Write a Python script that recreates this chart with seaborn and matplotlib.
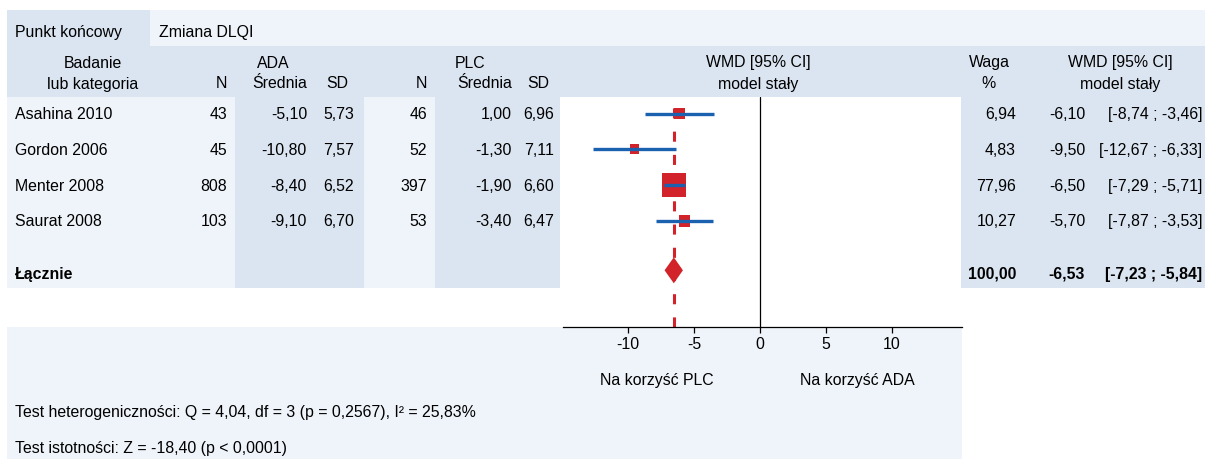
import matplotlib
matplotlib.use("Agg")
import matplotlib.pyplot as plt
from matplotlib.patches import Rectangle
import pandas as pd
import seaborn as sns

# study data
studies = ["Asahina 2010", "Gordon 2006", "Menter 2008", "Saurat 2008"]
n_ada = [43, 45, 808, 103]
mean_ada = [-5.10, -10.80, -8.40, -9.10]
sd_ada = [5.73, 7.57, 6.52, 6.70]
n_plc = [46, 52, 397, 53]
mean_plc = [1.00, -1.30, -1.90, -3.40]
sd_plc = [6.96, 7.11, 6.60, 6.47]
weights = [6.94, 4.83, 77.96, 10.27]
wmd = [-6.10, -9.50, -6.50, -5.70]
ci_low = [-8.74, -12.67, -7.29, -7.87]
ci_high = [-3.46, -6.33, -5.71, -3.53]

# pooled (fixed model)
pooled_weight = 100.00
pooled_wmd = -6.53
pooled_low = -7.23
pooled_high = -5.84

x_ticks = [-10, -5, 0, 5, 10]
heterogeneity = "Test heterogeniczności: Q = 4,04, df = 3 (p = 0,2567), I² = 25,83%"
significance = "Test istotności: Z = -18,40 (p < 0,0001)"

# colours
BLUE_BG = "#dbe5f1"
LIGHT_BG = "#eff4fa"
RED = "#d2232a"
BLUE = "#1a62b0"

sns.set_style("white")
plt.rcParams["font.family"] = ["Liberation Sans", "DejaVu Sans"]
FS = 11.4


def fmt(v):
    return f"{v:.2f}".replace(".", ",")


def ci_text(lo, hi):
    return f"[{fmt(lo)} ; {fmt(hi)}]"


W, H = 1205, 459
fig = plt.figure(figsize=(W / 100, H / 100), dpi=100)

# background layer in pixel coordinates
bg = fig.add_axes([0, 0, 1, 1])
bg.set_xlim(0, W)
bg.set_ylim(H, 0)
bg.axis("off")


def box(x0, x1, y0, y1, color):
    bg.add_patch(Rectangle((x0, y0), x1 - x0, y1 - y0, color=color, lw=0, zorder=0))


def txt(x, yc, s, ha="left", bold=False):
    # yc = visual centre of the capitals
    bg.text(x, yc + 5.5, s, ha=ha, va="baseline", fontsize=FS,
            fontweight="bold" if bold else "normal", color="black", zorder=2)


ROW0, PITCH = 113.5, 35.8
TOP, TABLE_BOTTOM, AXIS_Y = 97, 288, 327

def row_y(r):
    return ROW0 + PITCH * r

# cells
box(7, 150, 10, 46, BLUE_BG)
box(150, W, 10, 46, LIGHT_BG)
box(7, W, 46, TOP, BLUE_BG)
box(7, 235, TOP, TABLE_BOTTOM, LIGHT_BG)
box(235, 364, TOP, TABLE_BOTTOM, BLUE_BG)
box(364, 435, TOP, TABLE_BOTTOM, LIGHT_BG)
box(435, 560, TOP, TABLE_BOTTOM, BLUE_BG)
box(961, W, TOP, TABLE_BOTTOM, BLUE_BG)
box(7, 962, AXIS_Y, H, LIGHT_BG)

# header
txt(15, 32, "Punkt końcowy")
txt(159, 32, "Zmiana DLQI")
txt(93, 62, "Badanie", ha="center")
txt(93, 83, "lub kategoria", ha="center")
txt(273, 62, "ADA", ha="center")
txt(227, 83, "N", ha="right")
txt(307, 83, "Średnia", ha="right")
txt(326, 83, "SD")
txt(470, 62, "PLC", ha="center")
txt(427, 83, "N", ha="right")
txt(512, 83, "Średnia", ha="right")
txt(527, 83, "SD")
txt(758, 62, "WMD [95% CI]", ha="center")
txt(758, 83, "model stały", ha="center")
txt(989, 62, "Waga", ha="center")
txt(989, 83, "%", ha="center")
txt(1120, 62, "WMD [95% CI]", ha="center")
txt(1120, 83, "model stały", ha="center")

# study rows
for i, name in enumerate(studies):
    y = row_y(i)
    txt(15, y, name)
    txt(227, y, str(n_ada[i]), ha="right")
    txt(307, y, fmt(mean_ada[i]), ha="right")
    txt(354, y, fmt(sd_ada[i]), ha="right")
    txt(427, y, str(n_plc[i]), ha="right")
    txt(512, y, fmt(mean_plc[i]), ha="right")
    txt(554, y, fmt(sd_plc[i]), ha="right")
    txt(1016, y, fmt(weights[i]), ha="right")
    txt(1085, y, fmt(wmd[i]), ha="right")
    txt(1202, y, ci_text(ci_low[i], ci_high[i]), ha="right")

# pooled row
TOTAL_TEXT = 4.46
yt = row_y(TOTAL_TEXT)
txt(15, yt, "Łącznie", bold=True)
txt(1016, yt, fmt(pooled_weight), ha="right", bold=True)
txt(1085, yt, fmt(pooled_wmd), ha="right", bold=True)
txt(1202, yt, ci_text(pooled_low, pooled_high), ha="right", bold=True)

txt(657, 379, "Na korzyść PLC", ha="center")
txt(857, 379, "Na korzyść ADA", ha="center")
txt(15, 412, heterogeneity)
txt(15, 448, significance)

# forest plot
X0, X1 = 563, 962
ax = fig.add_axes([X0 / W, 1 - AXIS_Y / H, (X1 - X0) / W, (AXIS_Y - TOP) / H])
ax.patch.set_alpha(0)

rows = list(range(len(studies)))
df = pd.DataFrame({"wmd": wmd, "row": rows, "weight": weights})
sns.scatterplot(data=df, x="wmd", y="row", size="weight", sizes=(48, 300),
                marker="s", color=RED, linewidth=0, edgecolor="none",
                legend=False, ax=ax, zorder=2)
ax.hlines(rows, ci_low, ci_high, color=BLUE, lw=2.4, zorder=3)

TOTAL_MARK = 4.38
half = 13 / PITCH
ax.fill([pooled_low, pooled_wmd, pooled_high, pooled_wmd],
        [TOTAL_MARK, TOTAL_MARK - half, TOTAL_MARK, TOTAL_MARK + half],
        color=RED, lw=0, zorder=3)

ax.axvline(0, color="black", lw=0.9, zorder=1)
ax.axvline(pooled_wmd, color=RED, lw=2.2, ls=(0, (3.3, 4.3)), zorder=1)

ax.set_xlim((X0 - 760) / 13.2, (X1 - 760) / 13.2)
ax.set_ylim((AXIS_Y - ROW0) / PITCH, (TOP - ROW0) / PITCH)
ax.set_xticks(x_ticks)
ax.set_xticklabels([str(t) for t in x_ticks])
ax.set_yticks([])
ax.set_xlabel("")
ax.set_ylabel("")
ax.tick_params(axis="x", direction="out", length=4, width=0.9, pad=3,
               labelsize=FS, colors="black", bottom=True)
for side in ["top", "left", "right"]:
    ax.spines[side].set_visible(False)
ax.spines["bottom"].set_color("black")
ax.spines["bottom"].set_linewidth(0.9)

fig.savefig("out.png", dpi=100)
